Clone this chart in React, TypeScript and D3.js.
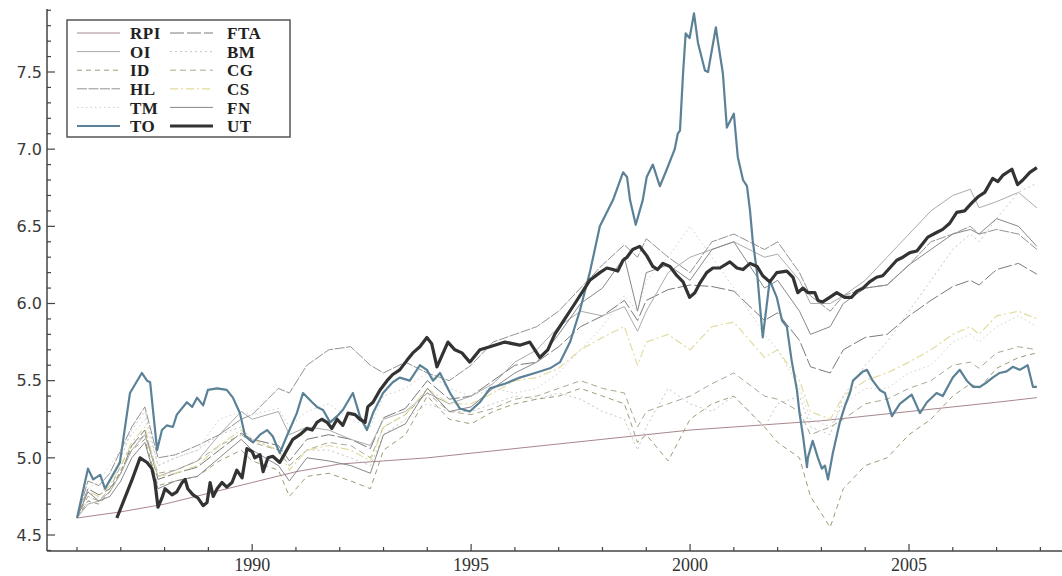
import React from "react";
import * as d3 from "d3";

const WIDTH = 1062;
const HEIGHT = 576;

// shared time grid for the sector series (decimal years)
const sectorDates = [
  1986.0, 1986.25, 1986.5, 1986.75, 1987.0, 1987.25, 1987.55, 1987.85, 1988.25, 1988.75,
  1989.25, 1989.75, 1990.0, 1990.6, 1990.85, 1991.25, 1991.75, 1992.25, 1992.7, 1993.0,
  1993.5, 1994.0, 1994.5, 1995.0, 1995.5, 1996.0, 1996.5, 1997.0, 1997.5, 1998.0,
  1998.5, 1998.8, 1999.0, 1999.5, 2000.0, 2000.5, 2001.0, 2001.7, 2002.0, 2002.5,
  2002.75, 2003.2, 2003.5, 2004.0, 2004.5, 2005.0, 2005.5, 2006.0, 2006.4, 2006.6,
  2007.0, 2007.5, 2007.92,
];

const rpiYears = [1986, 1987, 1988, 1989, 1990, 1991, 1992, 1993, 1994, 1995, 1996, 1997, 1998, 1999, 2000, 2001, 2002, 2003, 2004, 2005, 2006, 2007, 2007.92];
const rpiValues = [4.61, 4.65, 4.7, 4.77, 4.84, 4.91, 4.96, 4.98, 5.0, 5.03, 5.06, 5.09, 5.12, 5.15, 5.18, 5.2, 5.22, 5.24, 5.27, 5.3, 5.33, 5.36, 5.39];

const ftaValues = [4.61, 4.8, 4.76, 4.8, 4.9, 5.08, 5.18, 4.86, 4.9, 4.94, 5.05, 5.16, 5.12, 5.08, 4.98, 5.12, 5.15, 5.12, 5.06, 5.26, 5.32, 5.5, 5.38, 5.4, 5.5, 5.6, 5.62, 5.72, 5.85, 5.92, 6.02, 5.89, 6.02, 6.09, 6.12, 6.11, 6.08, 5.89, 5.94, 5.76, 5.59, 5.55, 5.7, 5.78, 5.8, 5.92, 6.02, 6.11, 6.15, 6.12, 6.22, 6.26, 6.19];
const hlValues = [4.61, 4.85, 4.82, 4.9, 5.05, 5.2, 5.33, 5.0, 5.02, 5.08, 5.15, 5.25, 5.28, 5.45, 5.42, 5.6, 5.7, 5.72, 5.6, 5.55, 5.62, 5.55, 5.5, 5.6, 5.75, 5.8, 5.85, 5.95, 6.1, 6.25, 6.38, 6.3, 6.42, 6.3, 6.2, 6.4, 6.45, 6.35, 6.4, 6.2, 6.05, 5.95, 6.05, 6.1, 6.12, 6.25, 6.4, 6.45, 6.5, 6.45, 6.48, 6.45, 6.35];
const fnValues = [4.61, 4.78, 4.72, 4.75, 4.85, 5.0, 5.1, 4.8, 4.85, 4.88, 5.0, 5.12, 5.05, 4.95, 4.85, 5.0, 4.98, 4.95, 4.9, 5.15, 5.22, 5.45, 5.3, 5.33, 5.45, 5.55, 5.62, 5.8, 6.0, 6.1, 6.3, 5.95, 6.2, 6.25, 6.15, 6.35, 6.4, 6.1, 6.15, 5.95, 5.8, 5.85, 6.0, 6.1, 6.12, 6.25, 6.35, 6.45, 6.48, 6.45, 6.55, 6.5, 6.37];
const oiValues = [4.61, 4.7, 4.72, 4.78, 4.9, 5.05, 5.15, 4.88, 4.92, 4.98, 5.15, 5.3, 5.25, 5.3, 5.15, 5.2, 5.18, 5.12, 5.08, 5.25, 5.3, 5.42, 5.35, 5.4, 5.48, 5.62, 5.7, 5.85, 5.95, 5.92, 5.98, 5.82, 5.95, 6.2, 6.3, 6.35, 6.4, 6.3, 6.32, 6.15, 6.0, 6.0, 6.05, 6.15, 6.3, 6.45, 6.6, 6.7, 6.74, 6.62, 6.66, 6.72, 6.62];
const bmValues = [4.61, 4.72, 4.75, 4.85, 5.0, 5.18, 5.3, 4.95, 5.0, 5.05, 5.15, 5.2, 5.12, 5.05, 4.95, 5.05, 5.05, 5.0, 4.95, 5.15, 5.25, 5.35, 5.3, 5.3, 5.35, 5.4, 5.38, 5.42, 5.38, 5.3, 5.25, 5.05, 5.2, 5.45, 5.35, 5.3, 5.4, 5.2, 5.35, 5.4, 5.2, 5.15, 5.4, 5.6, 5.75, 5.95, 6.15, 6.35, 6.45, 6.4, 6.55, 6.72, 6.78];
const idValues = [4.61, 4.72, 4.7, 4.78, 4.92, 5.05, 5.12, 4.82, 4.85, 4.88, 4.98, 5.05, 4.98, 4.92, 4.75, 4.88, 4.9, 4.85, 4.8, 5.05, 5.15, 5.4, 5.25, 5.22, 5.3, 5.35, 5.38, 5.4, 5.45, 5.4, 5.35, 5.1, 5.15, 4.98, 5.25, 5.35, 5.4, 5.2, 5.1, 5.0, 4.75, 4.55, 4.8, 4.95, 5.0, 5.15, 5.25, 5.4, 5.48, 5.45, 5.58, 5.65, 5.68];
const cgValues = [4.61, 4.75, 4.72, 4.8, 4.95, 5.08, 5.15, 4.9, 4.92, 4.98, 5.08, 5.15, 5.1, 5.05, 4.95, 5.05, 5.1, 5.08, 5.0, 5.2, 5.28, 5.42, 5.3, 5.28, 5.32, 5.38, 5.4, 5.45, 5.5, 5.45, 5.42, 5.2, 5.3, 5.35, 5.4, 5.48, 5.55, 5.4, 5.38, 5.3, 5.15, 5.2, 5.25, 5.35, 5.38, 5.45, 5.5, 5.6, 5.62, 5.58, 5.68, 5.72, 5.7];
const csValues = [4.61, 4.78, 4.75, 4.82, 4.95, 5.1, 5.2, 4.88, 4.9, 4.95, 5.08, 5.18, 5.12, 5.05, 4.92, 5.05, 5.08, 5.05, 4.98, 5.2, 5.28, 5.45, 5.35, 5.35, 5.42, 5.5, 5.52, 5.58, 5.7, 5.78, 5.85, 5.6, 5.75, 5.8, 5.7, 5.85, 5.88, 5.65, 5.7, 5.5, 5.3, 5.25, 5.4, 5.5, 5.55, 5.62, 5.7, 5.8, 5.85, 5.8, 5.92, 5.95, 5.9];
const tmValues = [4.61, 4.8, 4.85, 4.95, 5.05, 5.15, 5.25, 4.95, 5.0, 5.05, 5.25, 5.3, 5.28, 5.32, 5.2, 5.3, 5.35, 5.25, 5.2, 5.4, 5.45, 5.55, 5.45, 5.4, 5.45, 5.42, 5.45, 5.55, 5.7, 5.85, 6.05, 5.95, 6.15, 6.3, 6.5, 6.3, 6.1, 5.8, 5.7, 5.45, 5.25, 5.2, 5.35, 5.45, 5.45, 5.55, 5.6, 5.75, 5.8, 5.75, 5.85, 5.92, 5.85];

const toYears = [1986.0, 1986.25, 1986.37, 1986.53, 1986.64, 1986.8, 1986.98, 1987.21, 1987.48, 1987.6, 1987.67, 1987.83, 1987.94, 1988.05, 1988.19, 1988.28, 1988.51, 1988.63, 1988.74, 1988.88, 1988.99, 1989.2, 1989.42, 1989.56, 1989.72, 1989.84, 1990.02, 1990.18, 1990.34, 1990.47, 1990.63, 1990.79, 1991.02, 1991.16, 1991.37, 1991.48, 1991.62, 1991.78, 1991.94, 1992.07, 1992.3, 1992.46, 1992.62, 1992.76, 1992.99, 1993.21, 1993.37, 1993.6, 1993.83, 1993.99, 1994.13, 1994.29, 1994.52, 1994.74, 1994.97, 1995.2, 1995.43, 1995.77, 1996.11, 1996.46, 1996.8, 1997.03, 1997.26, 1997.48, 1997.71, 1997.94, 1998.24, 1998.47, 1998.56, 1998.63, 1998.76, 1998.92, 1999.01, 1999.15, 1999.31, 1999.47, 1999.65, 1999.72, 1999.77, 1999.84, 1999.9, 1999.99, 2000.09, 2000.18, 2000.34, 2000.41, 2000.59, 2000.63, 2000.75, 2000.84, 2001.0, 2001.09, 2001.21, 2001.3, 2001.37, 2001.43, 2001.53, 2001.66, 2001.82, 2001.98, 2002.1, 2002.21, 2002.32, 2002.44, 2002.5, 2002.58, 2002.67, 2002.69, 2002.8, 2002.92, 2003.01, 2003.08, 2003.15, 2003.26, 2003.42, 2003.53, 2003.65, 2003.72, 2003.95, 2004.04, 2004.17, 2004.33, 2004.45, 2004.61, 2004.79, 2005.06, 2005.25, 2005.41, 2005.63, 2005.77, 2006.0, 2006.16, 2006.32, 2006.46, 2006.62, 2006.78, 2006.91, 2007.07, 2007.23, 2007.37, 2007.53, 2007.71, 2007.83, 2007.92];
const toValues = [4.61, 4.93, 4.86, 4.89, 4.8, 4.88, 4.97, 5.42, 5.55, 5.5, 5.49, 5.05, 5.18, 5.21, 5.2, 5.28, 5.36, 5.33, 5.39, 5.34, 5.44, 5.45, 5.44, 5.39, 5.29, 5.14, 5.1, 5.15, 5.18, 5.14, 5.03, 5.14, 5.29, 5.42, 5.36, 5.33, 5.31, 5.23, 5.27, 5.31, 5.42, 5.27, 5.18, 5.29, 5.42, 5.49, 5.52, 5.5, 5.6, 5.57, 5.5, 5.55, 5.42, 5.32, 5.3, 5.36, 5.45, 5.48, 5.52, 5.55, 5.58, 5.62, 5.75, 5.95, 6.2, 6.5, 6.67, 6.85, 6.82, 6.67, 6.51, 6.67, 6.82, 6.9, 6.76, 6.87, 7.0, 7.1, 7.12, 7.49, 7.75, 7.72, 7.88, 7.69, 7.51, 7.5, 7.79, 7.71, 7.49, 7.14, 7.23, 6.95, 6.8, 6.76, 6.6, 6.41, 6.2, 5.78, 6.15, 6.04, 5.89, 5.85, 5.63, 5.44, 5.29, 5.14, 4.94, 5.0, 5.11, 5.0, 4.93, 4.95, 4.86, 5.03, 5.23, 5.33, 5.42, 5.5, 5.56, 5.57, 5.5, 5.44, 5.42, 5.27, 5.35, 5.41, 5.29, 5.36, 5.42, 5.4, 5.52, 5.57, 5.5, 5.46, 5.46, 5.49, 5.52, 5.55, 5.56, 5.59, 5.57, 5.6, 5.46, 5.46];

const utYears = [1986.91, 1987.05, 1987.26, 1987.44, 1987.6, 1987.71, 1987.78, 1987.85, 1987.94, 1988.01, 1988.17, 1988.28, 1988.4, 1988.47, 1988.53, 1988.65, 1988.76, 1988.88, 1988.97, 1989.04, 1989.11, 1989.2, 1989.31, 1989.42, 1989.54, 1989.65, 1989.77, 1989.88, 1990.0, 1990.06, 1990.18, 1990.25, 1990.36, 1990.47, 1990.63, 1990.79, 1990.93, 1991.09, 1991.25, 1991.37, 1991.48, 1991.59, 1991.71, 1991.82, 1991.94, 1992.07, 1992.19, 1992.35, 1992.46, 1992.58, 1992.64, 1992.76, 1992.92, 1993.08, 1993.21, 1993.37, 1993.53, 1993.67, 1993.83, 1993.99, 1994.1, 1994.22, 1994.47, 1994.63, 1994.79, 1994.97, 1995.2, 1995.43, 1995.77, 1996.11, 1996.34, 1996.57, 1996.75, 1996.91, 1997.14, 1997.37, 1997.71, 1997.94, 1998.1, 1998.24, 1998.35, 1998.47, 1998.56, 1998.69, 1998.85, 1999.01, 1999.15, 1999.26, 1999.38, 1999.54, 1999.7, 1999.84, 1999.99, 2000.11, 2000.22, 2000.38, 2000.52, 2000.68, 2000.91, 2001.07, 2001.21, 2001.37, 2001.53, 2001.66, 2001.82, 2001.98, 2002.21, 2002.35, 2002.46, 2002.58, 2002.69, 2002.85, 2002.92, 2003.03, 2003.19, 2003.35, 2003.53, 2003.69, 2003.81, 2003.95, 2004.1, 2004.26, 2004.4, 2004.56, 2004.72, 2004.86, 2005.02, 2005.18, 2005.32, 2005.43, 2005.63, 2005.77, 2005.93, 2006.09, 2006.27, 2006.43, 2006.57, 2006.73, 2006.91, 2007.03, 2007.14, 2007.35, 2007.48, 2007.6, 2007.76, 2007.92];
const utValues = [4.61, 4.71, 4.86, 5.0, 4.97, 4.93, 4.84, 4.68, 4.74, 4.8, 4.76, 4.78, 4.84, 4.86, 4.8, 4.76, 4.74, 4.69, 4.71, 4.84, 4.75, 4.8, 4.84, 4.81, 4.84, 4.92, 4.87, 5.06, 5.04, 5.0, 5.02, 4.91, 5.0, 5.01, 4.97, 5.05, 5.12, 5.15, 5.19, 5.18, 5.23, 5.25, 5.23, 5.19, 5.25, 5.21, 5.29, 5.28, 5.25, 5.23, 5.33, 5.36, 5.44, 5.5, 5.54, 5.57, 5.63, 5.68, 5.72, 5.78, 5.74, 5.59, 5.75, 5.7, 5.68, 5.62, 5.7, 5.72, 5.75, 5.73, 5.75, 5.65, 5.7, 5.8, 5.9, 6.0, 6.15, 6.2, 6.23, 6.22, 6.21, 6.28, 6.3, 6.35, 6.37, 6.31, 6.24, 6.22, 6.26, 6.24, 6.18, 6.14, 6.04, 6.07, 6.13, 6.2, 6.23, 6.23, 6.27, 6.23, 6.22, 6.26, 6.24, 6.18, 6.14, 6.2, 6.21, 6.17, 6.07, 6.1, 6.07, 6.07, 6.02, 6.01, 6.04, 6.07, 6.04, 6.04, 6.08, 6.1, 6.14, 6.17, 6.18, 6.23, 6.28, 6.3, 6.33, 6.34, 6.39, 6.43, 6.46, 6.48, 6.52, 6.59, 6.6, 6.65, 6.69, 6.72, 6.81, 6.79, 6.83, 6.87, 6.77, 6.8, 6.85, 6.88];

const yMajorTicks = [4.5, 5.0, 5.5, 6.0, 6.5, 7.0, 7.5];
const yTickLabels = ["4.5", "5.0", "5.5", "6.0", "6.5", "7.0", "7.5"];
const xMajorTicks = [1990, 1995, 2000, 2005];
const xTickLabels = ["1990", "1995", "2000", "2005"];

type Style = { color: string; width: number; dash?: string };

const seriesList: { name: string; years: number[]; values: number[]; style: Style }[] = [
  { name: "RPI", years: rpiYears, values: rpiValues, style: { color: "#a8868e", width: 1 } },
  { name: "FTA", years: sectorDates, values: ftaValues, style: { color: "#7a7a7a", width: 1, dash: "14,3" } },
  { name: "OI", years: sectorDates, values: oiValues, style: { color: "#ababab", width: 1 } },
  { name: "BM", years: sectorDates, values: bmValues, style: { color: "#c6c6c6", width: 1, dash: "2,3" } },
  { name: "ID", years: sectorDates, values: idValues, style: { color: "#9c9c78", width: 1, dash: "5,4" } },
  { name: "CG", years: sectorDates, values: cgValues, style: { color: "#aaa890", width: 1, dash: "6,4" } },
  { name: "HL", years: sectorDates, values: hlValues, style: { color: "#939393", width: 1, dash: "10,1.5" } },
  { name: "CS", years: sectorDates, values: csValues, style: { color: "#e2dca0", width: 1.2, dash: "8,3,2,3" } },
  { name: "TM", years: sectorDates, values: tmValues, style: { color: "#cfcfcf", width: 1, dash: "1.5,3" } },
  { name: "FN", years: sectorDates, values: fnValues, style: { color: "#888888", width: 1 } },
  { name: "TO", years: toYears, values: toValues, style: { color: "#5b8196", width: 2.2 } },
  { name: "UT", years: utYears, values: utValues, style: { color: "#333333", width: 3.2 } },
];

const legendCol1 = ["RPI", "OI", "ID", "HL", "TM", "TO"];
const legendCol2 = ["FTA", "BM", "CG", "CS", "FN", "UT"];

export default function App() {
  const left = 47;
  const right = 1062;
  const top = 9;
  const bottom = 551;

  const x = d3.scaleLinear().domain([1986, 2005]).range([77, 909]);
  const y = d3.scaleLinear().domain([4.5, 7.5]).range([535, 72]);

  const yMin = y.invert(bottom);
  const yMax = y.invert(top);
  const yMinor = d3.range(Math.ceil(yMin * 10), Math.floor(yMax * 10) + 1).map((v) => v / 10);
  const xMin = x.invert(left);
  const xMax = x.invert(right);
  const xMinor = d3.range(Math.ceil(xMin), Math.floor(xMax) + 1);

  const line = d3
    .line<[number, number]>()
    .x((d) => x(d[0]))
    .y((d) => y(d[1]));

  const styleByName: Record<string, Style> = {};
  seriesList.forEach((s) => (styleByName[s.name] = s.style));

  const legendRowY = (i: number) => 33 + i * 18.6;

  return (
    <svg
      width={WIDTH}
      height={HEIGHT}
      style={{ position: "absolute", left: 0, top: 0, background: "#fff" }}
    >
      <rect x={0} y={0} width={WIDTH} height={HEIGHT} fill="#fff" />
      {seriesList.map((s) => (
        <path
          key={s.name}
          d={line(s.years.map((t, i) => [t, s.values[i]] as [number, number])) || ""}
          fill="none"
          stroke={s.style.color}
          strokeWidth={s.style.width}
          strokeDasharray={s.style.dash}
          strokeLinejoin="round"
        />
      ))}

      {/* axes */}
      <line x1={left} x2={left} y1={top} y2={bottom} stroke="#444" strokeWidth={1.5} />
      <line x1={left} x2={right} y1={bottom} y2={bottom} stroke="#444" strokeWidth={1.5} />
      {yMinor.map((v) => {
        const major = Math.abs(v * 2 - Math.round(v * 2)) < 1e-6;
        return (
          <line key={"ym" + v} x1={left} x2={left + (major ? 8 : 4)} y1={y(v)} y2={y(v)} stroke="#444" strokeWidth={1.2} />
        );
      })}
      {xMinor.map((t) => {
        const major = t % 5 === 0;
        return (
          <line key={"xm" + t} x1={x(t)} x2={x(t)} y1={bottom} y2={bottom - (major ? 7 : 4)} stroke="#444" strokeWidth={1.2} />
        );
      })}
      {yMajorTicks.map((v, i) => (
        <text
          key={"yl" + v}
          x={42}
          y={y(v)}
          dy="0.36em"
          textAnchor="end"
          fontFamily="DejaVu Sans, sans-serif"
          fontSize={16}
          fill="#3a3a3a"
        >
          {yTickLabels[i]}
        </text>
      ))}
      {xMajorTicks.map((t, i) => (
        <text
          key={"xl" + t}
          x={x(t)}
          y={571}
          textAnchor="middle"
          fontFamily="Liberation Serif, serif"
          fontSize={18}
          fill="#333"
        >
          {xTickLabels[i]}
        </text>
      ))}

      {/* legend */}
      <rect x={67} y={20} width={223} height={117} fill="#fff" stroke="#555" strokeWidth={1.5} />
      {[legendCol1, legendCol2].map((col, ci) =>
        col.map((name, ri) => {
          const st = styleByName[name];
          const lx = ci === 0 ? 77 : 170;
          const tx = ci === 0 ? 130 : 227;
          const ly = legendRowY(ri);
          return (
            <g key={name}>
              <line
                x1={lx}
                x2={lx + 43}
                y1={ly}
                y2={ly}
                stroke={st.color}
                strokeWidth={st.width}
                strokeDasharray={st.dash}
              />
              <text
                x={tx}
                y={ly}
                dy="0.36em"
                fontFamily="Liberation Serif, serif"
                fontWeight="bold"
                fontSize={17}
                letterSpacing={0.5}
                fill="#222"
              >
                {name}
              </text>
            </g>
          );
        })
      )}
    </svg>
  );
}
